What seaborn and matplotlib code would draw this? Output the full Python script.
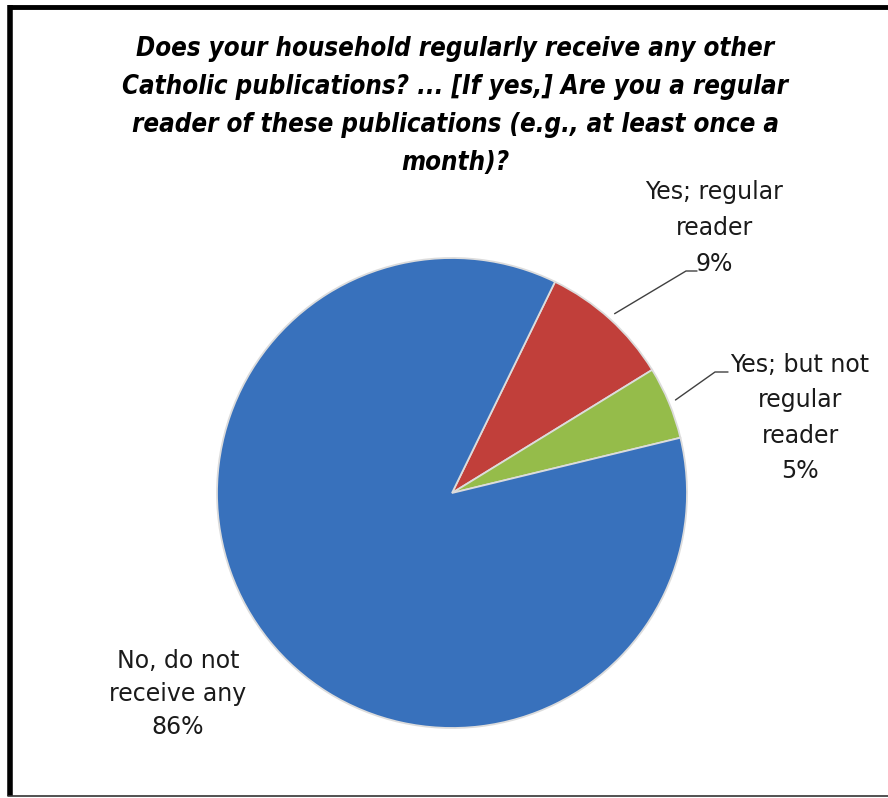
import numpy as np
import matplotlib.pyplot as plt
import seaborn as sns

sns.set_theme(style='white')
plt.rcParams['font.family'] = ['DejaVu Sans']

# --- data ---
labels = ['Yes; regular\nreader', 'Yes; but not\nregular\nreader', 'No, do not\nreceive any']
shares = [9, 5, 86]
colors = ['#C13F3A', '#95BC4A', '#3871BC']
title = ('Does your household regularly receive any other\n'
         'Catholic publications? ... [If yes,] Are you a regular\n'
         'reader of these publications (e.g., at least once a\n'
         'month)?')

W, H = 888, 798
fig = plt.figure(figsize=(W / 100, H / 100), dpi=100)

def fx(x):
    return x / W

def fy(y):
    return 1 - y / H

# pie axes: center (452, 493), radius 235 px
cx, cy, r = 452, 493, 235
ax = fig.add_axes([fx(cx - r), fy(cy + r), 2 * r / W, 2 * r / H])
wedges, _ = ax.pie(shares, colors=colors, startangle=64, counterclock=False,
                   wedgeprops=dict(edgecolor='#dcdcdc', linewidth=1.3))
ax.set_xlim(-1, 1)
ax.set_ylim(-1, 1)
ax.set_aspect('equal')
ax.axis('off')

# title
fig.text(fx(455), fy(106), title, ha='center', va='center', fontsize=18.5,
         fontweight='bold', fontstyle='italic', fontstretch='condensed',
         linespacing=1.6, color='black')

# data labels
fs = 17
lab_pos = [(714, 228), (800, 418), (178, 694)]
spacing = [1.65, 1.6, 1.45]
for lab, val, (x, y), ls in zip(labels, shares, lab_pos, spacing):
    fig.text(fx(x), fy(y), f'{lab}\n{val}%', ha='center', va='center',
             fontsize=fs, linespacing=ls, color='#1a1a1a')

# leader lines from the wedge edge (mid angle) to the label
elbows = [((686, 271), (697, 271)), ((715, 372), (728, 372))]
for w, (e1, e2) in zip(wedges[:2], elbows):
    mid = np.deg2rad((w.theta1 + w.theta2) / 2)
    x0 = cx + r * 1.03 * np.cos(mid)
    y0 = cy - r * 1.03 * np.sin(mid)
    xs = [fx(x0), fx(e1[0]), fx(e2[0])]
    ys = [fy(y0), fy(e1[1]), fy(e2[1])]
    fig.add_artist(plt.Line2D(xs, ys, color='#404040', linewidth=1))

# chart frame: thick top and left, thin bottom
fig.add_artist(plt.Line2D([fx(8), fx(888)], [fy(7), fy(7)], color='black',
                          linewidth=3.5, solid_capstyle='butt'))
fig.add_artist(plt.Line2D([fx(10), fx(10)], [fy(5), fy(796)], color='black',
                          linewidth=4, solid_capstyle='butt'))
fig.add_artist(plt.Line2D([fx(8), fx(888)], [fy(796), fy(796)], color='#333333', linewidth=1.2))

plt.savefig('out.png', dpi=100)
